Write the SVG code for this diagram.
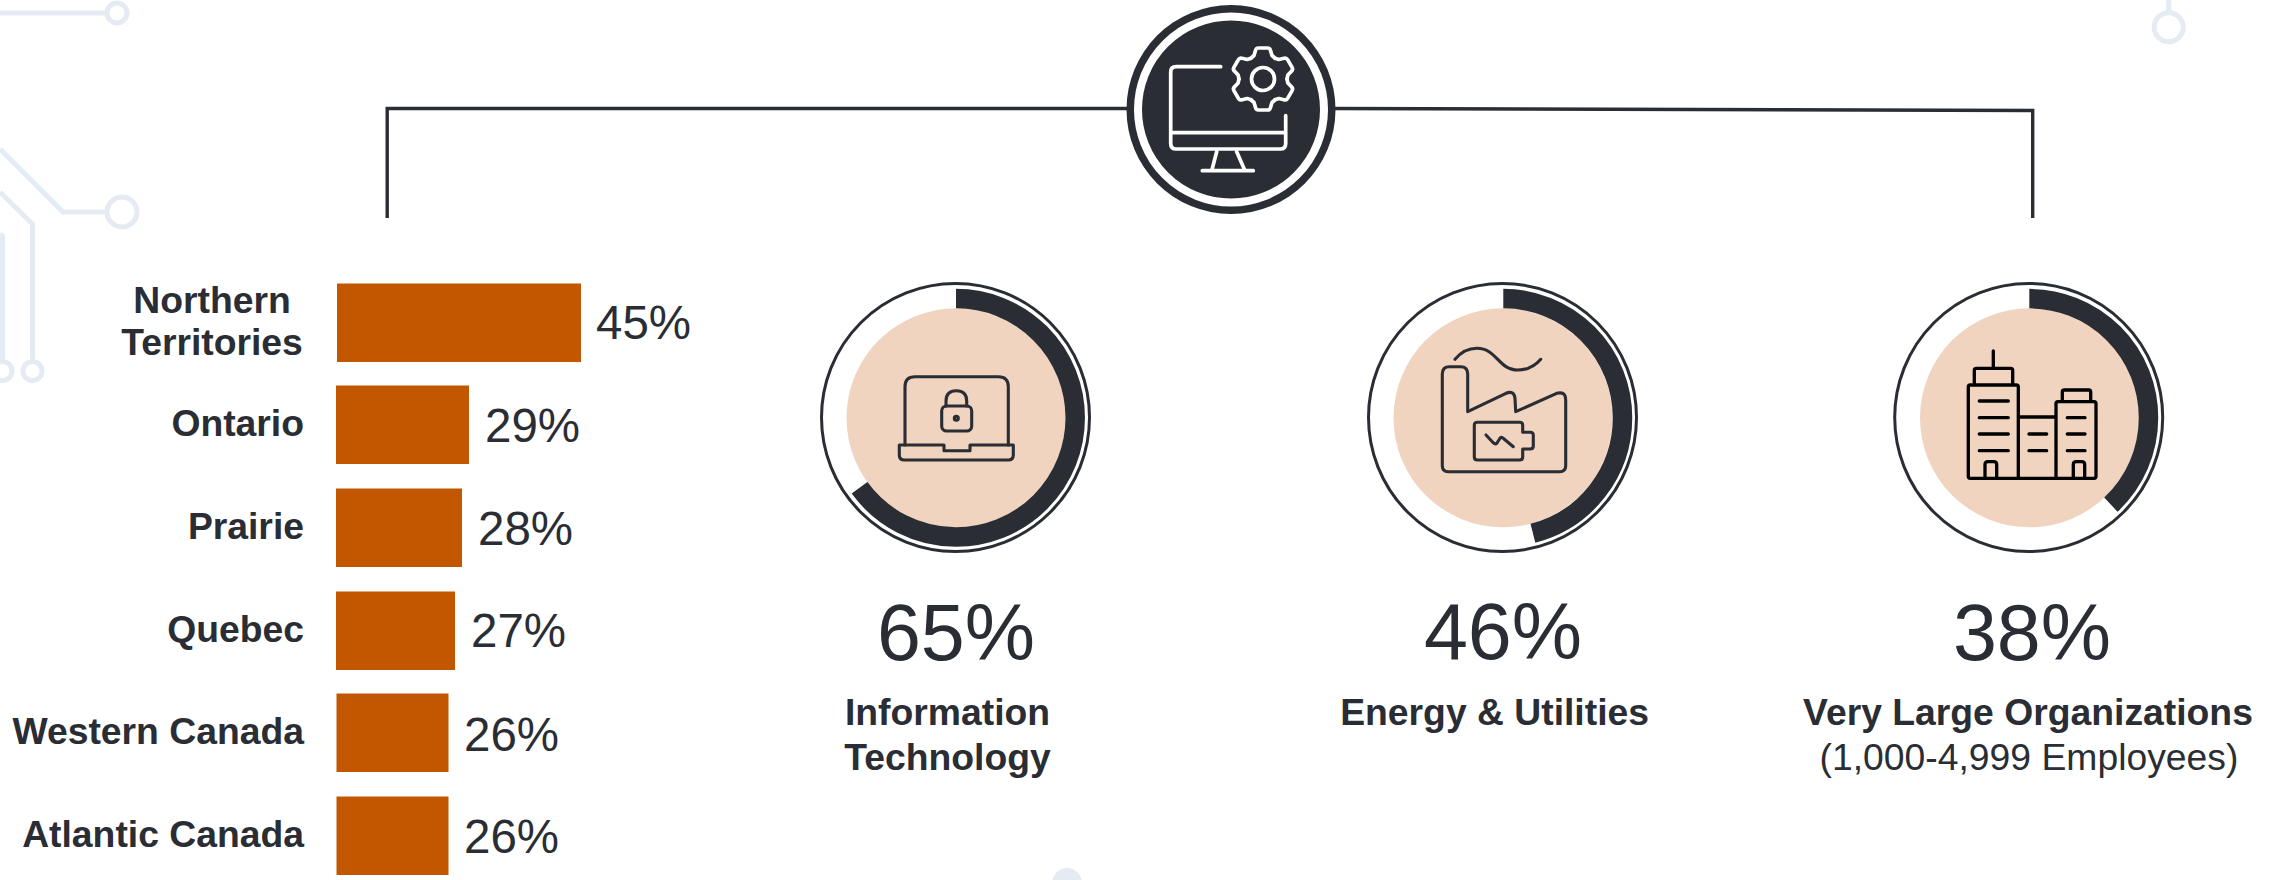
<svg xmlns="http://www.w3.org/2000/svg" xmlns:xlink="http://www.w3.org/1999/xlink" width="2279" height="880" viewBox="0 0 2279 880">
<style>
text{font-family:"Liberation Sans",Arial,sans-serif;fill:#2A2D34}
.lb{font-size:37.3px;font-weight:700}
.lr{font-size:37.3px;font-weight:400}
.pct{font-size:47.5px}
.big{font-size:79px;text-anchor:middle}
.mid{text-anchor:middle}
.end{text-anchor:end}
.bar{fill:#C25700}
.deco{fill:none;stroke:#E4EBF3;stroke-width:5}
.ring{fill:#fff;stroke:#2A2D34;stroke-width:3}
.peach{fill:#F0D4BF}
.arc{fill:none;stroke:#2A2D34;stroke-width:19.5}
.ic{fill:none;stroke:#2A2D34;stroke-width:3.1;stroke-linecap:round;stroke-linejoin:round}
.ick{fill:none;stroke:#000;stroke-width:3.3;stroke-linecap:round;stroke-linejoin:round}
.icw{fill:none;stroke:#fff;stroke-width:3.7;stroke-linecap:round;stroke-linejoin:round}
.conn{fill:none;stroke:#2A2D34;stroke-width:3.4}
</style>
<defs>
<path id="tooth" d="M-12 -20.8 L-9 -23.5 L-7.5 -28.5 Q-7 -31 -4.5 -31 H4.5 Q7 -31 7.5 -28.5 L9 -23.5 L12 -20.8"/>
</defs>
<rect width="2279" height="880" fill="#fff"/>
<g id="background-circuit">
<path class="deco" d="M0 13H107"/><ellipse class="deco" cx="117" cy="13" rx="10" ry="10"/>
<path class="deco" d="M0 149L63 212H107"/><circle class="deco" cx="122" cy="212" r="15"/>
<path class="deco" d="M0 192L32.5 224V361"/><circle class="deco" cx="32.5" cy="371" r="9.5"/>
<path class="deco" d="M0 234L2.5 236V361"/><circle class="deco" cx="2.5" cy="371" r="9.5"/>
<path class="deco" d="M2168.7 0V11"/><circle class="deco" cx="2168.7" cy="27.3" r="14.5"/>
<circle cx="1067" cy="883" r="15" fill="#E4EBF3"/>
</g>
<g id="connectors">
<path class="conn" d="M1130 108.5H387.2V218"/>
<path class="conn" d="M1330 108.5L2032.7 110.5V218"/>
</g>
<g id="node-top-icon">
<circle cx="1231" cy="109.5" r="104.5" fill="#2A2D34"/>
<circle cx="1231" cy="109.5" r="93" fill="none" stroke="#fff" stroke-width="8"/>
<path class="icw" d="M1220.7 66.7H1176.2Q1170.7 66.7 1170.7 72.2V143.5Q1170.7 149 1176.2 149H1280.2Q1285.7 149 1285.7 143.5V115.7M1170.7 132.7H1285.7M1216.7 151.7L1211.7 170.7M1236.7 151.7L1245 170.7M1202.3 170.7H1253.3"/>
<g class="icw" transform="translate(1263 79)">
<circle r="11.5"/>
<use xlink:href="#tooth"/>
<use xlink:href="#tooth" transform="rotate(60)"/>
<use xlink:href="#tooth" transform="rotate(120)"/>
<use xlink:href="#tooth" transform="rotate(180)"/>
<use xlink:href="#tooth" transform="rotate(240)"/>
<use xlink:href="#tooth" transform="rotate(300)"/>
</g>
</g>
<g id="node-northern-territories">
<rect class="bar" x="337" y="283.5" width="244" height="78.5"/>
<text class="lb mid" x="212" y="312.5">Northern</text>
<text class="lb mid" x="212" y="355">Territories</text>
<text class="pct" x="596" y="339">45%</text>
</g>
<g id="node-ontario">
<rect class="bar" x="336" y="385.5" width="133" height="78.5"/>
<text class="lb end" x="304" y="436">Ontario</text>
<text class="pct" x="485" y="441.5">29%</text>
</g>
<g id="node-prairie">
<rect class="bar" x="336" y="488.5" width="126" height="78.5"/>
<text class="lb end" x="304" y="539">Prairie</text>
<text class="pct" x="478" y="544.5">28%</text>
</g>
<g id="node-quebec">
<rect class="bar" x="336" y="591.5" width="119" height="78.5"/>
<text class="lb end" x="304" y="641.5">Quebec</text>
<text class="pct" x="471" y="646.5">27%</text>
</g>
<g id="node-western-canada">
<rect class="bar" x="336.5" y="693.5" width="112" height="78.5"/>
<text class="lb end" x="304" y="744">Western Canada</text>
<text class="pct" x="464" y="750.5">26%</text>
</g>
<g id="node-atlantic-canada">
<rect class="bar" x="336.5" y="796.5" width="112" height="78.5"/>
<text class="lb end" x="304" y="847">Atlantic Canada</text>
<text class="pct" x="464" y="852.5">26%</text>
</g>
<g id="node-information-technology">
<circle class="ring" cx="955.5" cy="417.5" r="134"/>
<circle class="peach" cx="956" cy="417.8" r="109.5"/>
<circle class="arc" cx="956" cy="417.8" r="119.2" pathLength="100" stroke-dasharray="65 100" transform="rotate(-90 956 417.8)"/>
<path class="ic" d="M905 445V386.7Q905 376.7 915 376.7H998.3Q1008.3 376.7 1008.3 386.7V445"/>
<path class="ic" d="M899.3 445H944V450.7H970V445H1013.3V455Q1013.3 460 1008.3 460H904.3Q899.3 460 899.3 455Z"/>
<rect class="ic" x="941.7" y="406" width="30" height="25" rx="5"/>
<path class="ic" d="M946 406V401Q946 390.7 956.3 390.7Q966.7 390.7 966.7 401V406"/>
<circle class="ic" cx="956.3" cy="418.3" r="2"/>
<text class="big" x="956" y="660">65%</text>
<text class="lb mid" x="947.5" y="725">Information</text>
<text class="lb mid" x="947.5" y="770">Technology</text>
</g>
<g id="node-energy-utilities">
<circle class="ring" cx="1502.5" cy="417.5" r="134"/>
<circle class="peach" cx="1503" cy="417.8" r="109.5"/>
<circle class="arc" cx="1503.3" cy="417.8" r="119.2" pathLength="100" stroke-dasharray="46 100" transform="rotate(-90 1503.3 417.8)"/>
<path class="ic" d="M1455 359.3C1462 351 1470 348.3 1477 348.3C1497 348.3 1498 370 1518 370C1527 370 1535 366 1540.7 359.3"/>
<path class="ic" d="M1442.3 374V465.7Q1442.3 471.7 1448.3 471.7H1559.7Q1565.7 471.7 1565.7 465.7V400Q1565.7 391 1556.7 393.3L1515.7 411.7L1515 398.3Q1514 390 1506 393.3L1467.7 411.7V374Q1467.7 366.7 1460.7 366.7H1449.3Q1442.3 366.7 1442.3 374Z"/>
<path class="ic" d="M1477.3 422.3H1519.7Q1522.7 422.3 1522.7 425.3V432.3H1530.3Q1533.3 432.3 1533.3 435.3V446Q1533.3 449 1530.3 449H1522.7V457Q1522.7 460 1519.7 460H1477.3Q1474.3 460 1474.3 457V425.3Q1474.3 422.3 1477.3 422.3Z"/>
<path class="ic" d="M1486 435L1493 442.5Q1496 445 1497 443L1499.5 439Q1501 436 1503.5 438.5L1513.3 446.7"/>
<text class="big" x="1503" y="658.7">46%</text>
<text class="lb mid" x="1494.6" y="725">Energy &amp; Utilities</text>
</g>
<g id="node-very-large-organizations">
<circle class="ring" cx="2028.7" cy="417.5" r="134"/>
<circle class="peach" cx="2029.5" cy="417.8" r="109.5"/>
<circle class="arc" cx="2029.3" cy="417.8" r="119.2" pathLength="100" stroke-dasharray="38 100" transform="rotate(-90 2029.3 417.8)"/>
<path class="ick" d="M1968.3 387Q1968.3 385 1970.3 385H2016.3Q2018.3 385 2018.3 387V478.3H1970.3Q1968.3 478.3 1968.3 476.3ZM1974.3 385V370.3Q1974.3 368.3 1976.3 368.3H2010.7Q2012.7 368.3 2012.7 370.3V385M1993.3 351V368.3M2018.3 417H2056M2056 403.7Q2056 401.7 2058 401.7H2094Q2096 401.7 2096 403.7V476.3Q2096 478.3 2094 478.3H2018.3M2056 403.7V478.3M2062.3 401.7V392Q2062.3 390 2064.3 390H2088.7Q2090.7 390 2090.7 392V401.7"/>
<path class="ick" d="M1979.3 401H2008.3M1979.3 417.7H2008.3M1979.3 434H2008.3M1979.3 450.7H2008.3M2029 434H2046.7M2029 450.7H2046.7M2067.3 417.7H2085M2067.3 434H2085M2067.3 450.7H2085"/>
<path class="ick" d="M1985 478.3V464.7Q1985 461.7 1988 461.7H1993.7Q1996.7 461.7 1996.7 464.7V478.3M2073.3 478.3V464.7Q2073.3 461.7 2076.3 461.7H2081.7Q2084.7 461.7 2084.7 464.7V478.3"/>
<text class="big" x="2032" y="660">38%</text>
<text class="lb mid" x="2028" y="725">Very Large Organizations</text>
<text class="lr mid" x="2029" y="770">(1,000-4,999 Employees)</text>
</g>
</svg>
